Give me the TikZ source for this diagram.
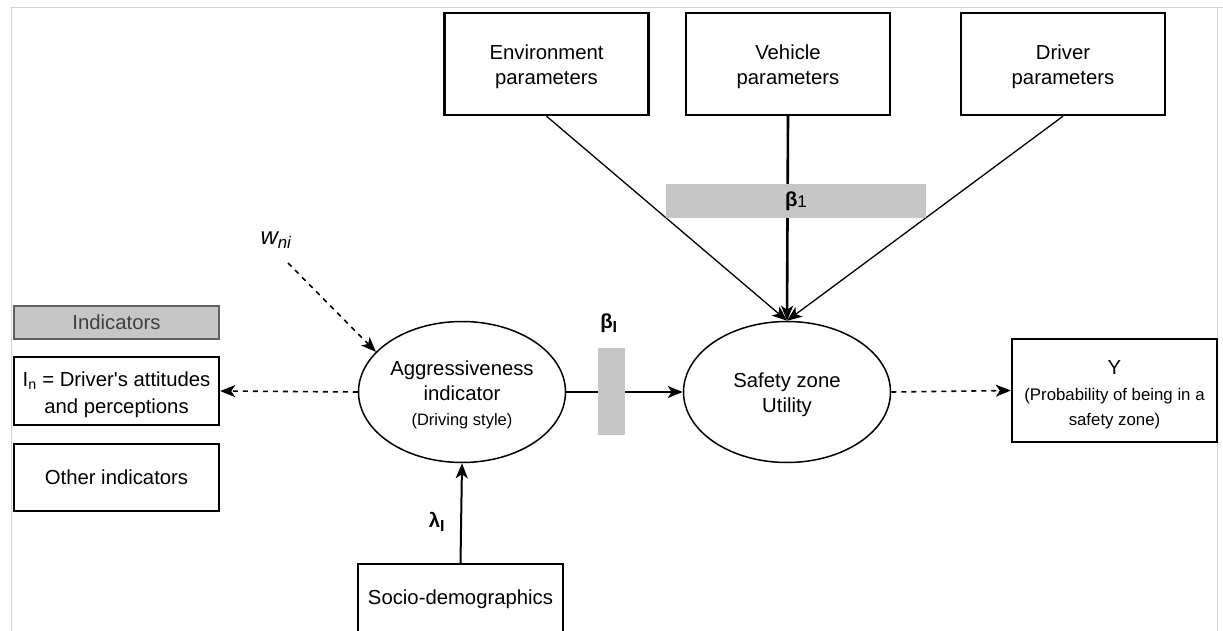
\documentclass[tikz,border=0pt]{standalone}
\usepackage{fontspec}
\setmainfont{Liberation Sans}
\newfontfamily\plainsans{Liberation Sans}
\usetikzlibrary{arrows.meta,shapes.geometric}
\definecolor{barfill}{HTML}{C6C6C6}
\definecolor{framegray}{HTML}{D4D4D4}
% strut that lowers a multi-line node text onto the optical centre
\newcommand{\firstline}{\rule{0pt}{20.5pt}}
\begin{document}
\begin{tikzpicture}[x=1pt,y=-1pt,
  txt/.style={font=\fontsize{20.3}{25}\selectfont},
  box/.style={draw, line width=2.4pt, inner sep=0pt, align=center, txt},
  latent/.style={draw, ellipse, line width=1.5pt, inner sep=0pt,
    minimum width=207pt, minimum height=141pt, align=center, txt},
  bar/.style={fill=barfill, inner sep=0pt},
  tip/.style={-{Stealth[length=15pt,width=12pt,inset=4pt]}},
  solidlink/.style={tip, line width=2pt},
  thinlink/.style={tip, line width=1.3pt},
  dashlink/.style={tip, line width=1.6pt, dash pattern=on 5pt off 5pt}]
\useasboundingbox (0,0) rectangle (1223,631);

% page frame
\draw[framegray, line width=1pt] (10,8) -- (1223,8);
\draw[framegray, line width=1pt] (11,8) -- (11,631);
\draw[framegray, line width=1pt] (1217,8) -- (1217,631);

% observed parameter boxes
\node[box, minimum width=204pt, minimum height=102pt] (env) at (546.5,64) {\firstline Environment\\parameters};
\node[box, minimum width=204pt, minimum height=102pt] (veh) at (788,64) {\firstline Vehicle\\parameters};
\node[box, minimum width=204pt, minimum height=102pt] (drv) at (1063,64) {\firstline Driver\\parameters};

% latent variables
\node[latent] (safety) at (787,392) {\firstline Safety zone\\Utility};
\node[latent] (aggr) at (462,392) {\firstline Aggressiveness\\indicator\\{\fontsize{16.5}{24}\selectfont(Driving style)}};

% outcome
\node[box, minimum width=205pt, minimum height=103pt] (y) at (1114.5,390.5)
  {\rule{0pt}{23pt}Y\\[1pt]{\fontsize{16.8}{24}\selectfont (Probability of being in a}\\{\fontsize{16.8}{24}\selectfont safety zone)}};

% indicators
\node[draw=gray!75!black, fill=barfill, line width=1.6pt, inner sep=0pt,
  minimum width=205pt, minimum height=33pt, txt, text=black!75] (ind) at (116.5,322.5) {Indicators};
\node[box, minimum width=205pt, minimum height=68pt] (att) at (116.5,391)
  {\rule{0pt}{22pt}I\textsubscript{n} = Driver{\plainsans '}s attitudes\\[2pt]and perceptions};
\node[box, minimum width=205pt, minimum height=67pt] (oth) at (116.5,477.5) {Other indicators};

% socio-demographics (runs past the lower edge)
\node[box, minimum width=205pt, minimum height=70pt] (soc) at (460.5,599) {Socio-demographics};

% error term
\node[font=\fontsize{24}{24}\selectfont\itshape] (w) at (276,240) {w\textsubscript{ni}};
\coordinate (wstart) at (288,263);

% connectors
\draw[thinlink] (env.south) -- (safety.north);
\draw[thinlink] (drv.south) -- (safety.north);
\draw[tip, line width=2.6pt] (veh.south) -- (safety.north);
\draw[solidlink] (aggr.east) -- (safety.west);
\draw[solidlink] (soc.north) -- (aggr.south);
\draw[dashlink] (safety.east) -- (y.west);
\draw[dashlink] (aggr.west) -- (att.east);
\draw[dashlink] (wstart) -- (aggr.155);

% coefficient bars and labels
\node[bar, minimum width=260pt, minimum height=34pt, txt] (b1) at (796,201)
  {\textbf{β}\raisebox{-1.5pt}{\fontsize{17}{17}\selectfont 1}};
\node[bar, minimum width=27pt, minimum height=87pt] (bI) at (611,391) {};
\node[txt] (bIlabel) at (609,323) {\textbf{β}\textsubscript{\fontsize{16}{16}\selectfont\bfseries I}};
\node[txt] (lam) at (437,522) {\textbf{λ}\textsubscript{\fontsize{16}{16}\selectfont\bfseries I}};
\end{tikzpicture}
\end{document}
